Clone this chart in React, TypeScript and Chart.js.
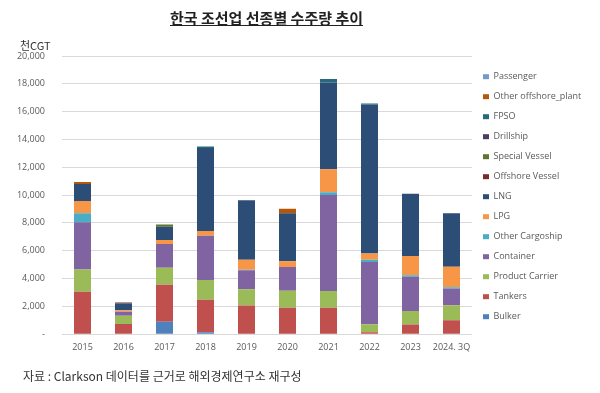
import React, { useEffect, useRef } from "react";
import { Chart, registerables } from "chart.js";

Chart.register(...registerables);

const categories = ["2015", "2016", "2017", "2018", "2019", "2020", "2021", "2022", "2023", "2024. 3Q"];
const yTicks = [0, 2000, 4000, 6000, 8000, 10000, 12000, 14000, 16000, 18000, 20000];

const bulker = [0, 0, 890, 140, 0, 0, 0, 0, 0, 0];
const tankers = [3050, 740, 2660, 2330, 2070, 1900, 1900, 140, 700, 1010];
const productCarrier = [1610, 580, 1230, 1420, 1170, 1220, 1200, 580, 960, 1080];
const container = [3385, 300, 1700, 3190, 1350, 1710, 6910, 4470, 2470, 1200];
const otherCargoship = [645, 0, 0, 0, 50, 0, 190, 160, 100, 80];
const lpg = [890, 100, 290, 340, 710, 410, 1660, 460, 1390, 1480];
const lng = [1220, 490, 960, 5960, 4280, 3450, 6240, 10710, 4470, 3840];
const offshoreVessel = [0, 60, 0, 0, 0, 0, 0, 0, 0, 0];
const specialVessel = [0, 0, 150, 0, 0, 0, 0, 0, 0, 0];
const drillship = [0, 0, 0, 0, 0, 0, 0, 0, 0, 0];
const fpso = [0, 0, 0, 120, 0, 0, 250, 60, 0, 0];
const otherOffshorePlant = [150, 0, 0, 0, 0, 320, 0, 0, 0, 0];
const passenger = [0, 0, 0, 0, 0, 0, 0, 0, 0, 0];

const seriesNames = [
  "Bulker", "Tankers", "Product Carrier", "Container", "Other Cargoship", "LPG", "LNG",
  "Offshore Vessel", "Special Vessel", "Drillship", "FPSO", "Other offshore_plant", "Passenger",
];
const seriesData = [
  bulker, tankers, productCarrier, container, otherCargoship, lpg, lng,
  offshoreVessel, specialVessel, drillship, fpso, otherOffshorePlant, passenger,
];
const seriesColors = [
  "#4F81BD", "#C0504D", "#9BBB59", "#8064A2", "#4BACC6", "#F79646", "#2C4D75",
  "#772C2A", "#5F7530", "#4D3B62", "#276A7C", "#B65708", "#729ACA",
];

const LABEL_COLOR = "#595959";
const FONT = "'Open Sans', 'Noto Sans', sans-serif";
const LEGEND_WIDTH = 128;

const fixedLegendWidth = {
  id: "fixedLegendWidth",
  beforeLayout(chart: any) {
    const lg = chart.legend;
    if (lg && !lg.__patched) {
      const orig = lg.fit.bind(lg);
      lg.fit = function () {
        orig();
        this.width = LEGEND_WIDTH;
      };
      lg.__patched = true;
    }
  },
};

export default function App() {
  const canvasRef = useRef<HTMLCanvasElement | null>(null);

  useEffect(() => {
    document.body.style.margin = "0";
    const canvas = canvasRef.current;
    if (!canvas) return;
    const chart = new Chart(canvas, {
      type: "bar",
      data: {
        labels: categories,
        datasets: seriesNames.map((name, i) => ({
          label: name,
          data: seriesData[i],
          backgroundColor: seriesColors[i],
          borderWidth: 0,
          categoryPercentage: 1,
          barPercentage: 0.415,
        })),
      },
      plugins: [fixedLegendWidth],
      options: {
        animation: false,
        responsive: false,
        maintainAspectRatio: false,
        layout: { padding: { top: 56, bottom: 32, left: 0, right: 0 } },
        plugins: {
          tooltip: { enabled: false },
          legend: {
            position: "right",
            align: "start",
            reverse: true,
            title: { display: true, text: "", font: { size: 1 }, padding: { top: 4, bottom: 0 } },
            labels: {
              boxWidth: 6,
              boxHeight: 5,
              padding: 11,
              color: LABEL_COLOR,
              font: { size: 9, family: FONT },
            },
          },
        },
        scales: {
          x: {
            stacked: true,
            grid: { display: false, drawTicks: false },
            border: { display: false },
            ticks: { color: LABEL_COLOR, font: { size: 9, family: FONT }, padding: 8, maxRotation: 0, autoSkip: false },
          },
          y: {
            stacked: true,
            min: 0,
            max: 20000,
            afterFit: (scale: any) => { scale.width = 62; },
            afterBuildTicks: (scale: any) => { scale.ticks = yTicks.map((v) => ({ value: v })); },
            grid: { color: "#D9D9D9", drawTicks: false },
            border: { display: false },
            ticks: {
              color: LABEL_COLOR,
              font: { size: 9, family: FONT },
              padding: 17,
              callback: (v: any) => (Number(v) === 0 ? "-" : Number(v).toLocaleString("en-US")),
            },
          },
        },
      },
    });
    return () => chart.destroy();
  }, []);

  return (
    <div style={{ position: "absolute", left: 0, top: 0, width: 600, height: 393, background: "#fff", overflow: "hidden" }}>
      <canvas ref={canvasRef} width={600} height={393} style={{ position: "absolute", left: 0, top: 0, width: 600, height: 393 }} />
      <div style={{ position: "absolute", left: 170, top: 8, fontFamily: "'Noto Sans CJK KR', sans-serif", fontWeight: 700, fontSize: 15, color: "#222", textDecoration: "underline", whiteSpace: "nowrap", lineHeight: "20px" }}>
        한국 조선업 선종별 수주량 추이
      </div>
      <div style={{ position: "absolute", left: 20, top: 37, fontFamily: "'Noto Sans CJK KR', sans-serif", fontSize: 11, color: "#333", whiteSpace: "nowrap", lineHeight: "16px" }}>
        천CGT
      </div>
      <div style={{ position: "absolute", left: 23, top: 367, fontFamily: "'Noto Sans CJK KR', sans-serif", fontSize: 12, color: "#333", whiteSpace: "nowrap", lineHeight: "18px" }}>
        자료 : Clarkson 데이터를 근거로 해외경제연구소 재구성
      </div>
    </div>
  );
}
